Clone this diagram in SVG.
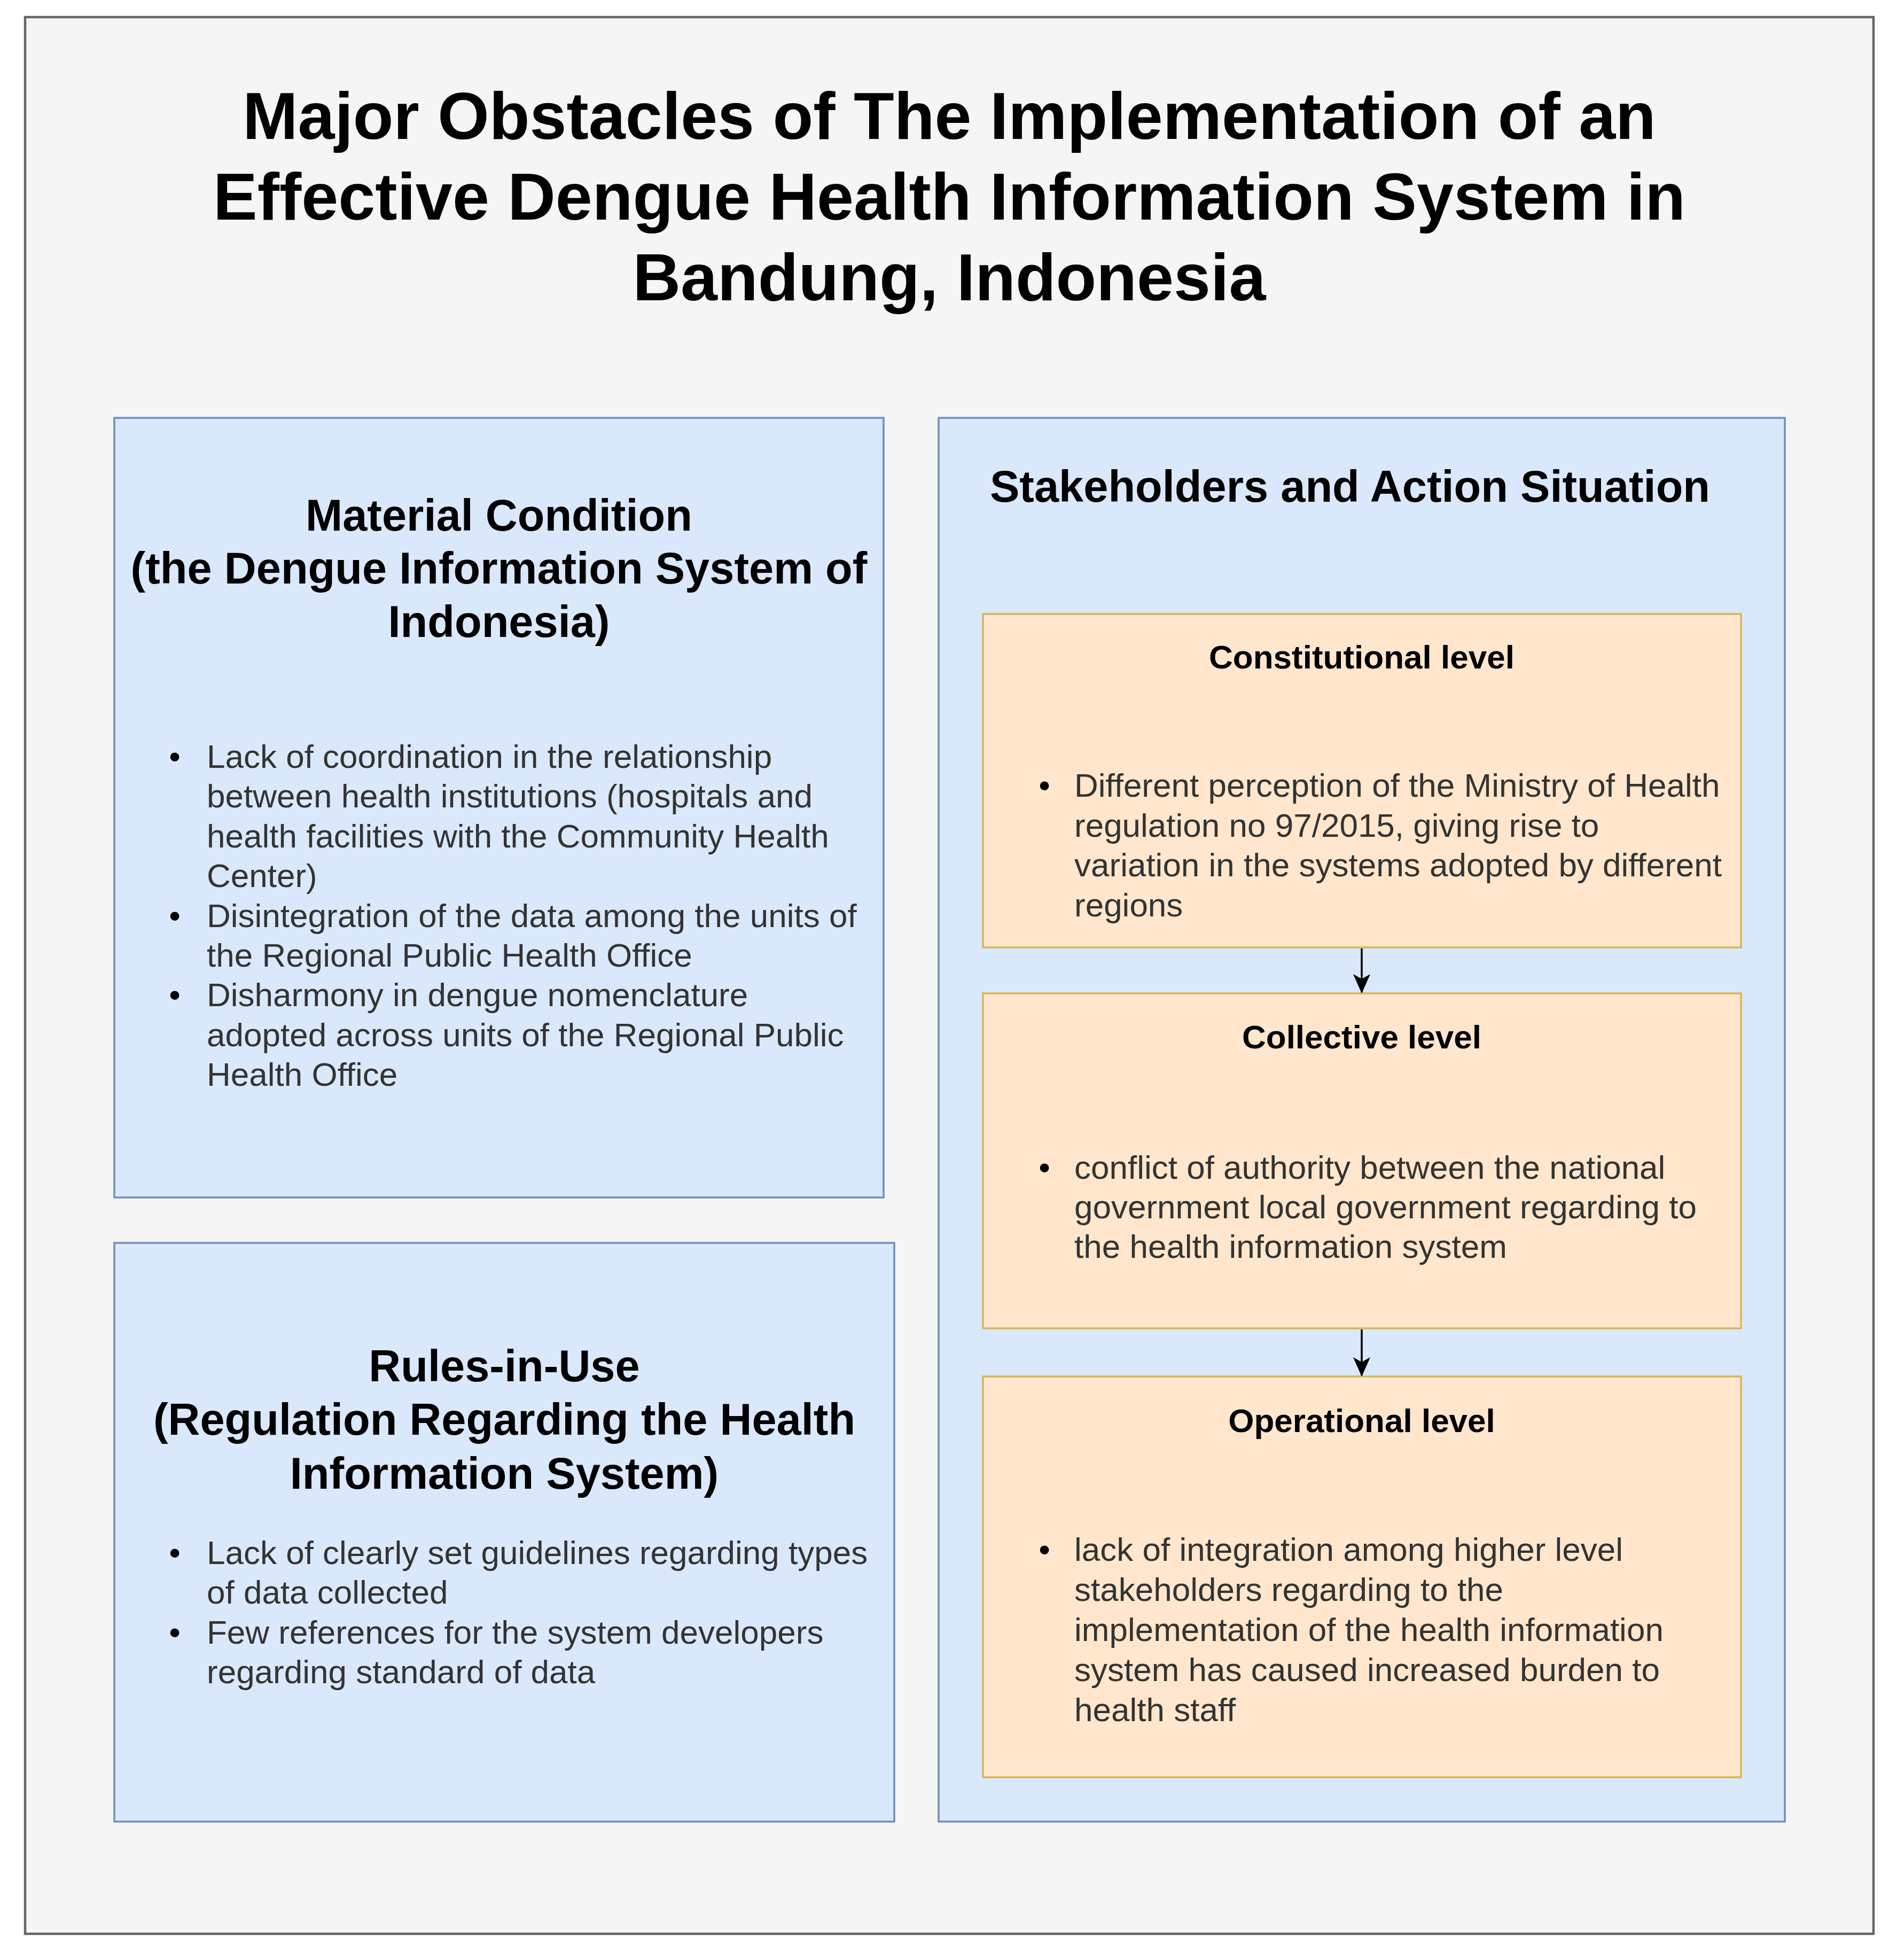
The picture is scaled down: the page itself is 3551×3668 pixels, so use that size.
<svg xmlns="http://www.w3.org/2000/svg" width="3551" height="3668" viewBox="0 0 3551 3668">
<style>
.t{font-family:"Liberation Sans",Arial,Helvetica,sans-serif}
.title{font-size:124px;font-weight:bold;fill:#000;text-anchor:middle}
.h{font-size:83px;font-weight:bold;fill:#000;text-anchor:middle}
.lh{font-size:62px;font-weight:bold;fill:#000;text-anchor:middle}
.b{font-size:62px;fill:#333333}
.dot{font-size:62px;fill:#000;text-anchor:middle}
.blue{fill:#dae8fc;stroke:#6c8ebf;stroke-width:3.5}
.orange{fill:#ffe6cc;stroke:#d6b656;stroke-width:3.5}
.conn{stroke:#000;stroke-width:3.5;fill:none}
</style>
<defs>
<marker id="arr" markerUnits="userSpaceOnUse" markerWidth="36" markerHeight="32" viewBox="0 0 36 32" refX="34" refY="16" orient="auto">
<path d="M0,0 L36,16 L0,32 L9,16 Z" fill="#000"/>
</marker>
</defs>
<rect width="3551" height="3668" fill="#ffffff"/>
<g id="frame">
<rect x="47" y="32" width="3460" height="3587" fill="#f5f5f5" stroke="#666666" stroke-width="4.5"/>
<text class="t title" x="1777" y="260">Major Obstacles of The Implementation of an</text>
<text class="t title" x="1777" y="411">Effective Dengue Health Information System in</text>
<text class="t title" x="1777" y="562">Bandung, Indonesia</text>
</g>
<g id="material">
<rect class="blue" x="214" y="782" width="1440" height="1459"/>
<text class="t h" x="934" y="993">Material Condition</text>
<text class="t h" x="934" y="1092">(the Dengue Information System of</text>
<text class="t h" x="934" y="1192">Indonesia)</text>
<text class="t dot" x="327" y="1437">•</text>
<text class="t dot" x="327" y="1735">•</text>
<text class="t dot" x="327" y="1883">•</text>
<text class="t b" x="387" y="1437">Lack of coordination in the relationship</text>
<text class="t b" x="387" y="1511">between health institutions (hospitals and</text>
<text class="t b" x="387" y="1586">health facilities with the Community Health</text>
<text class="t b" x="387" y="1660">Center)</text>
<text class="t b" x="387" y="1735">Disintegration of the data among the units of</text>
<text class="t b" x="387" y="1809">the Regional Public Health Office</text>
<text class="t b" x="387" y="1883">Disharmony in dengue nomenclature</text>
<text class="t b" x="387" y="1958">adopted across units of the Regional Public</text>
<text class="t b" x="387" y="2032">Health Office</text>
</g>
<g id="rules">
<rect class="blue" x="214" y="2326" width="1460" height="1083"/>
<text class="t h" x="944" y="2585">Rules-in-Use</text>
<text class="t h" x="944" y="2685">(Regulation Regarding the Health</text>
<text class="t h" x="944" y="2786">Information System)</text>
<text class="t dot" x="327" y="2927">•</text>
<text class="t dot" x="327" y="3076">•</text>
<text class="t b" x="387" y="2927">Lack of clearly set guidelines regarding types</text>
<text class="t b" x="387" y="3001">of data collected</text>
<text class="t b" x="387" y="3076">Few references for the system developers</text>
<text class="t b" x="387" y="3150">regarding standard of data</text>
</g>
<g id="stakeholders">
<rect class="blue" x="1757" y="782" width="1584" height="2627"/>
<text class="t h" x="2527" y="939">Stakeholders and Action Situation</text>
</g>
<g id="constitutional">
<rect class="orange" x="1840" y="1149" width="1419" height="624"/>
<text class="t lh" x="2549" y="1251">Constitutional level</text>
<text class="t dot" x="1955" y="1491">•</text>
<text class="t b" x="2011" y="1491">Different perception of the Ministry of Health</text>
<text class="t b" x="2011" y="1566">regulation no 97/2015, giving rise to</text>
<text class="t b" x="2011" y="1640">variation in the systems adopted by different</text>
<text class="t b" x="2011" y="1715">regions</text>
</g>
<g id="collective">
<rect class="orange" x="1840" y="1859" width="1419" height="627"/>
<text class="t lh" x="2549" y="1962">Collective level</text>
<text class="t dot" x="1955" y="2206">•</text>
<text class="t b" x="2011" y="2206">conflict of authority between the national</text>
<text class="t b" x="2011" y="2280">government local government regarding to</text>
<text class="t b" x="2011" y="2354">the health information system</text>
</g>
<g id="operational">
<rect class="orange" x="1840" y="2576" width="1419" height="750"/>
<text class="t lh" x="2549" y="2680">Operational level</text>
<text class="t dot" x="1955" y="2921">•</text>
<text class="t b" x="2011" y="2921">lack of integration among higher level</text>
<text class="t b" x="2011" y="2996">stakeholders regarding to the</text>
<text class="t b" x="2011" y="3071">implementation of the health information</text>
<text class="t b" x="2011" y="3146">system has caused increased burden to</text>
<text class="t b" x="2011" y="3221">health staff</text>
</g>
<g id="connectors">
<line class="conn" x1="2549" y1="1775" x2="2549" y2="1857" marker-end="url(#arr)"/>
<line class="conn" x1="2549" y1="2488" x2="2549" y2="2574" marker-end="url(#arr)"/>
</g>
</svg>
